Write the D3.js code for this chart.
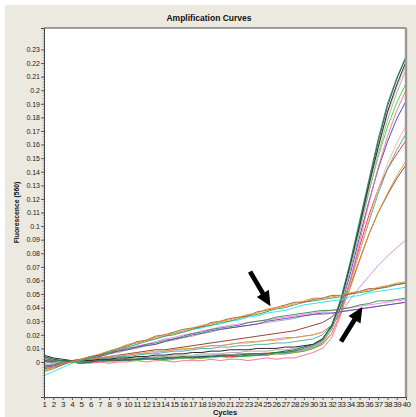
<!DOCTYPE html>
<html>
<head>
<meta charset="utf-8">
<script src="https://cdn.jsdelivr.net/npm/d3@7"></script>
<style>
  body { margin: 0; background: #fff; }
  text { font-family: Arial, "Liberation Sans", sans-serif; }
</style>
</head>
<body>
<div id="chart"></div>
<script>
// cycles and tick labels
var cycles = d3.range(1, 41);
var yTickValues = [0, 0.01, 0.02, 0.03, 0.04, 0.05, 0.06, 0.07, 0.08, 0.09, 0.1, 0.11, 0.12,
  0.13, 0.14, 0.15, 0.16, 0.17, 0.18, 0.19, 0.2, 0.21, 0.22, 0.23];
var yTickLabels = ["0", "0.01", "0.02", "0.03", "0.04", "0.05", "0.06", "0.07", "0.08", "0.09", "0.1", "0.11", "0.12",
  "0.13", "0.14", "0.15", "0.16", "0.17", "0.18", "0.19", "0.2", "0.21", "0.22", "0.23"];

// upper linear drifting wells
var orangeLin = [-0.006,-0.004,-0.001,0.000,0.002,0.004,0.006,0.008,0.010,0.013,0.014,0.016,0.018,0.020,0.021,0.023,0.025,0.027,0.028,0.030,0.031,0.033,0.035,0.036,0.039,0.040,0.041,0.043,0.045,0.047,0.047,0.048,0.049,0.051,0.052,0.053,0.055,0.056,0.058,0.059];
var brownLin = [-0.007,-0.005,-0.002,0.001,0.002,0.004,0.005,0.008,0.010,0.012,0.015,0.016,0.019,0.020,0.022,0.024,0.025,0.026,0.029,0.030,0.032,0.033,0.034,0.037,0.038,0.040,0.042,0.044,0.044,0.046,0.047,0.049,0.049,0.050,0.052,0.054,0.054,0.056,0.057,0.058];
var greenLin = [-0.005,-0.004,-0.002,0.000,0.001,0.003,0.005,0.007,0.009,0.011,0.013,0.015,0.017,0.019,0.020,0.022,0.024,0.026,0.027,0.029,0.030,0.032,0.034,0.035,0.037,0.039,0.040,0.042,0.044,0.045,0.046,0.047,0.048,0.050,0.051,0.052,0.054,0.055,0.057,0.058];
var cyanLin = [-0.010,-0.007,-0.004,-0.001,0.001,0.003,0.005,0.007,0.010,0.012,0.014,0.016,0.017,0.019,0.021,0.022,0.024,0.025,0.027,0.028,0.030,0.031,0.033,0.034,0.036,0.037,0.038,0.040,0.042,0.043,0.044,0.045,0.046,0.048,0.049,0.051,0.052,0.053,0.054,0.055];

// lower linear drifting wells
var purpleLin = [-0.004,-0.003,-0.001,0.000,0.001,0.003,0.004,0.006,0.008,0.009,0.011,0.012,0.013,0.015,0.017,0.018,0.020,0.021,0.023,0.024,0.025,0.026,0.027,0.028,0.030,0.031,0.032,0.033,0.034,0.035,0.036,0.036,0.037,0.038,0.039,0.040,0.041,0.042,0.043,0.044];
var darkGreenLin = [-0.003,-0.002,0.000,0.001,0.002,0.004,0.005,0.007,0.008,0.010,0.011,0.013,0.014,0.016,0.017,0.019,0.021,0.022,0.024,0.025,0.026,0.027,0.029,0.030,0.031,0.033,0.034,0.035,0.036,0.037,0.038,0.038,0.039,0.040,0.042,0.043,0.045,0.045,0.046,0.047];
var pinkLin = [-0.005,-0.003,-0.001,0.000,0.002,0.003,0.005,0.007,0.009,0.010,0.012,0.013,0.015,0.017,0.018,0.020,0.021,0.023,0.024,0.026,0.027,0.028,0.029,0.030,0.031,0.032,0.033,0.034,0.035,0.036,0.037,0.038,0.039,0.040,0.041,0.042,0.043,0.044,0.045,0.046];
var greyLin = [-0.004,-0.002,-0.001,0.000,0.001,0.003,0.004,0.006,0.007,0.009,0.010,0.012,0.013,0.015,0.016,0.018,0.019,0.021,0.022,0.024,0.025,0.026,0.027,0.028,0.029,0.030,0.031,0.032,0.034,0.035,0.035,0.036,0.037,0.038,0.039,0.040,0.041,0.042,0.043,0.044];

// amplifying wells
var tealAmp = [0.003,0.001,0.001,0.000,-0.001,0.000,0.001,0.001,0.002,0.001,0.002,0.002,0.003,0.002,0.003,0.003,0.004,0.003,0.004,0.004,0.005,0.004,0.005,0.005,0.006,0.007,0.007,0.008,0.010,0.012,0.016,0.027,0.047,0.074,0.104,0.134,0.164,0.190,0.209,0.225];
var darkTealAmp = [0.004,0.002,0.001,0.001,0.000,0.000,0.001,0.002,0.001,0.002,0.002,0.003,0.002,0.003,0.003,0.004,0.003,0.004,0.004,0.005,0.005,0.005,0.006,0.006,0.006,0.007,0.008,0.009,0.011,0.013,0.017,0.026,0.045,0.072,0.102,0.132,0.162,0.188,0.208,0.224];
var blackAmp = [0.005,0.003,0.002,0.001,0.001,0.001,0.002,0.002,0.003,0.003,0.004,0.004,0.005,0.005,0.006,0.006,0.007,0.007,0.008,0.008,0.009,0.009,0.009,0.010,0.010,0.010,0.011,0.011,0.012,0.013,0.017,0.027,0.046,0.072,0.100,0.130,0.158,0.184,0.204,0.221];
var greyAmp = [0.002,0.001,0.000,0.000,0.000,0.001,0.001,0.002,0.002,0.003,0.003,0.003,0.004,0.004,0.005,0.005,0.005,0.006,0.006,0.006,0.007,0.007,0.008,0.008,0.008,0.009,0.009,0.010,0.011,0.013,0.016,0.025,0.043,0.068,0.096,0.125,0.153,0.178,0.198,0.215];
var tanAmp = [-0.002,-0.001,0.000,0.000,0.001,0.001,0.001,0.002,0.002,0.002,0.003,0.003,0.003,0.004,0.004,0.004,0.004,0.005,0.005,0.005,0.005,0.006,0.006,0.006,0.006,0.007,0.007,0.008,0.009,0.011,0.015,0.024,0.043,0.069,0.098,0.128,0.157,0.182,0.202,0.218];
var greenAmp = [0.004,0.002,0.001,0.000,-0.001,0.000,0.001,0.000,0.001,0.002,0.001,0.002,0.002,0.001,0.002,0.003,0.002,0.003,0.003,0.004,0.003,0.004,0.004,0.005,0.005,0.006,0.006,0.007,0.008,0.010,0.014,0.024,0.043,0.069,0.097,0.125,0.151,0.173,0.191,0.205];
var pinkAmp = [-0.003,-0.002,-0.001,0.000,-0.001,-0.001,0.000,-0.001,0.000,0.000,0.001,0.000,0.001,0.001,0.000,0.001,0.001,0.001,0.002,0.001,0.002,0.002,0.001,0.002,0.003,0.002,0.003,0.003,0.005,0.007,0.010,0.018,0.035,0.060,0.088,0.117,0.143,0.166,0.185,0.200];
var blueAmp = [0.001,0.000,0.000,0.000,0.000,0.001,0.001,0.001,0.002,0.002,0.002,0.003,0.003,0.003,0.004,0.004,0.004,0.004,0.005,0.005,0.005,0.006,0.006,0.006,0.006,0.007,0.007,0.008,0.009,0.011,0.015,0.024,0.041,0.065,0.092,0.118,0.142,0.162,0.179,0.192];
var salmonAmp = [-0.002,-0.001,0.000,0.000,0.001,0.001,0.002,0.002,0.002,0.003,0.003,0.003,0.003,0.004,0.004,0.004,0.004,0.005,0.005,0.005,0.005,0.006,0.006,0.006,0.007,0.007,0.008,0.008,0.009,0.011,0.014,0.021,0.036,0.057,0.081,0.105,0.127,0.146,0.161,0.174];
var cadetAmp = [0.000,0.000,0.000,0.000,0.001,0.002,0.002,0.003,0.004,0.004,0.005,0.006,0.006,0.007,0.008,0.008,0.009,0.010,0.010,0.011,0.011,0.012,0.012,0.013,0.013,0.014,0.014,0.015,0.016,0.017,0.020,0.027,0.040,0.059,0.081,0.103,0.124,0.142,0.156,0.168];
var redAmp = [0.002,0.001,0.000,0.000,-0.001,0.000,0.000,0.001,0.001,0.001,0.002,0.002,0.002,0.002,0.003,0.003,0.003,0.003,0.004,0.004,0.004,0.004,0.005,0.005,0.005,0.006,0.006,0.007,0.008,0.010,0.013,0.021,0.037,0.060,0.085,0.108,0.127,0.142,0.153,0.163];
var orangeAmp = [-0.001,0.000,0.000,0.000,0.001,0.002,0.003,0.004,0.005,0.005,0.006,0.007,0.008,0.008,0.009,0.010,0.010,0.011,0.012,0.012,0.013,0.014,0.014,0.015,0.016,0.016,0.017,0.018,0.019,0.020,0.022,0.027,0.037,0.054,0.075,0.094,0.110,0.124,0.137,0.148];
var brownAmp = [0.001,0.001,0.000,0.000,0.001,0.002,0.003,0.004,0.005,0.006,0.007,0.008,0.009,0.009,0.010,0.011,0.012,0.013,0.014,0.015,0.016,0.017,0.018,0.019,0.020,0.021,0.022,0.023,0.025,0.027,0.029,0.033,0.041,0.056,0.075,0.094,0.110,0.123,0.135,0.145];
var violetAmp = [0.000,0.000,0.000,0.000,0.001,0.002,0.003,0.003,0.004,0.005,0.006,0.006,0.007,0.008,0.009,0.009,0.010,0.011,0.012,0.012,0.013,0.014,0.015,0.015,0.016,0.017,0.018,0.018,0.019,0.020,0.022,0.027,0.036,0.046,0.055,0.063,0.071,0.078,0.084,0.090];

var seriesList = [
  { values: violetAmp, color: "#cc88dc" },
  { values: brownAmp, color: "#8b2e1e" },
  { values: orangeAmp, color: "#e09a30" },
  { values: redAmp, color: "#ee2828" },
  { values: cadetAmp, color: "#40a8a0" },
  { values: salmonAmp, color: "#ffaa90" },
  { values: blueAmp, color: "#3a3ad0" },
  { values: pinkAmp, color: "#ff6a8a" },
  { values: greenAmp, color: "#30e030" },
  { values: tanAmp, color: "#cfc3a8" },
  { values: greyAmp, color: "#a8a8a8" },
  { values: blackAmp, color: "#111111" },
  { values: darkTealAmp, color: "#1d5040" },
  { values: tealAmp, color: "#2a7a66" },
  { values: greyLin, color: "#a0a0a0" },
  { values: pinkLin, color: "#ff7cff" },
  { values: darkGreenLin, color: "#2e8b3a" },
  { values: purpleLin, color: "#6040b0" },
  { values: cyanLin, color: "#22e0e8" },
  { values: greenLin, color: "#3c9a50" },
  { values: brownLin, color: "#a0522d" },
  { values: orangeLin, color: "#e8892a" }
];

var svgWidth = 416, svgHeight = 417;
var margin = { top: 28, right: 10, bottom: 20, left: 44 };
var width = svgWidth - margin.left - margin.right;
var height = svgHeight - margin.top - margin.bottom;

var svg = d3.select("#chart").append("svg")
  .attr("width", svgWidth)
  .attr("height", svgHeight);

// beige panel
svg.append("rect")
  .attr("x", 5).attr("y", 5)
  .attr("width", svgWidth - 5).attr("height", svgHeight - 5)
  .attr("fill", "#ece9e0");

var chartGroup = svg.append("g")
  .attr("transform", `translate(${margin.left}, ${margin.top})`);

var xScale = d3.scaleLinear().domain([1, 40]).range([0, width]);
var yScale = d3.scaleLinear().domain([-0.02576, 0.2458]).range([height, 0]);

chartGroup.append("rect")
  .attr("width", width).attr("height", height)
  .attr("fill", "#fff");

chartGroup.append("clipPath").attr("id", "plotclip")
  .append("rect").attr("width", width).attr("height", height);

// curves
var line = d3.line()
  .x((d, i) => xScale(cycles[i]))
  .y(d => yScale(d));

chartGroup.append("g")
  .attr("clip-path", "url(#plotclip)")
  .selectAll("path")
  .data(seriesList)
  .enter()
  .append("path")
  .attr("d", d => line(d.values))
  .attr("fill", "none")
  .attr("stroke", d => d.color)
  .attr("stroke-width", 0.9);

// frame
chartGroup.append("line").attr("x1", 0).attr("x2", width).attr("y1", 0).attr("y2", 0)
  .attr("stroke", "#444").attr("stroke-width", 1);
chartGroup.append("line").attr("x1", width).attr("x2", width).attr("y1", 0).attr("y2", height)
  .attr("stroke", "#999").attr("stroke-width", 2.4);

// y axis
var minorTicks = d3.range(-0.024, 0.2441, 0.002);
var leftAxis = d3.axisLeft(yScale)
  .tickValues(yTickValues)
  .tickFormat((d, i) => yTickLabels[i])
  .tickSize(3)
  .tickPadding(1);
var yAxisG = chartGroup.append("g").call(leftAxis);
yAxisG.selectAll("path.domain").attr("stroke", "#444");
yAxisG.selectAll(".tick line").attr("stroke", "#555");
yAxisG.selectAll("text").attr("font-size", "7px").attr("fill", "#222");
yAxisG.selectAll("line.minor")
  .data(minorTicks)
  .enter()
  .append("line")
  .attr("class", "minor")
  .attr("x1", -1.5).attr("x2", 0)
  .attr("y1", d => yScale(d)).attr("y2", d => yScale(d))
  .attr("stroke", "#777").attr("stroke-width", 0.6);

// x axis
var bottomAxis = d3.axisBottom(xScale)
  .tickValues(cycles)
  .tickFormat(d3.format("d"))
  .tickSize(3)
  .tickPadding(1);
var xAxisG = chartGroup.append("g")
  .attr("transform", `translate(0, ${height})`)
  .call(bottomAxis);
xAxisG.selectAll("path.domain").attr("stroke", "#444");
xAxisG.selectAll(".tick line").attr("stroke", "#555");
xAxisG.selectAll("text").attr("font-size", "8px").attr("fill", "#222").attr("letter-spacing", "-0.4px");

// titles
svg.append("text")
  .attr("x", 209).attr("y", 21)
  .attr("text-anchor", "middle")
  .attr("font-size", "8.5px")
  .attr("font-weight", "bold")
  .attr("fill", "#111")
  .text("Amplification Curves");

svg.append("text")
  .attr("x", margin.left + width / 2).attr("y", 415)
  .attr("text-anchor", "middle")
  .attr("font-size", "7.5px")
  .attr("font-weight", "bold")
  .attr("fill", "#111")
  .text("Cycles");

svg.append("text")
  .attr("transform", `translate(19, ${margin.top + yScale(0.11)}) rotate(-90)`)
  .attr("text-anchor", "middle")
  .attr("font-size", "6.8px")
  .attr("font-weight", "bold")
  .attr("fill", "#111")
  .text("Fluorescence (560)");

// arrows pointing at the drifting wells
var arrows = [
  { from: [23.2, 0.0665], to: [25.4, 0.041] },
  { from: [33.0, 0.0150], to: [35.3, 0.0405] }
];

function arrowPath(a) {
  var x0 = xScale(a.from[0]), y0 = yScale(a.from[1]);
  var x1 = xScale(a.to[0]), y1 = yScale(a.to[1]);
  var dx = x1 - x0, dy = y1 - y0, len = Math.sqrt(dx * dx + dy * dy);
  var ux = dx / len, uy = dy / len, px = -uy, py = ux;
  var head = 15, hw = 7, sw = 2.4;
  var bx = x1 - ux * head, by = y1 - uy * head;
  var pts = [
    [x0 + px * sw, y0 + py * sw], [bx + px * sw, by + py * sw], [bx + px * hw, by + py * hw],
    [x1, y1],
    [bx - px * hw, by - py * hw], [bx - px * sw, by - py * sw], [x0 - px * sw, y0 - py * sw]
  ];
  return "M" + pts.map(p => p.join(",")).join("L") + "Z";
}

chartGroup.selectAll("path.arrow")
  .data(arrows)
  .enter()
  .append("path")
  .attr("class", "arrow")
  .attr("d", arrowPath)
  .attr("fill", "#000");
</script>
</body>
</html>
